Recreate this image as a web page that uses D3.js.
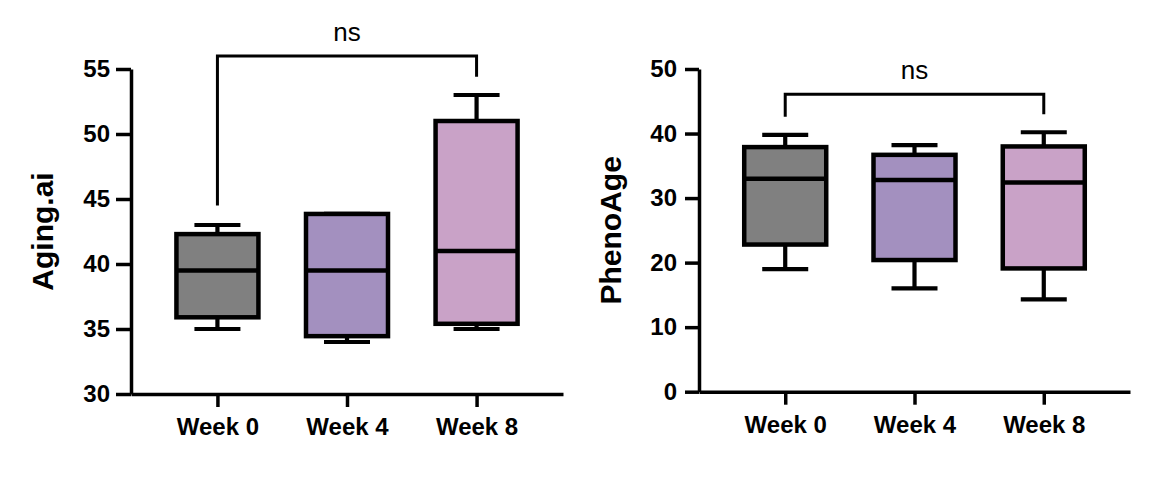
<!DOCTYPE html>
<html>
<head>
<meta charset="utf-8">
<script src="https://cdn.jsdelivr.net/npm/d3@7"></script>
<style>
  body { margin: 0; background: #fff; }
  svg { display: block; font-family: "Liberation Sans", Arial, Helvetica, sans-serif; }
</style>
</head>
<body>
<div id="chart"></div>
<script>
// groups on the x axis
const weeks = ["Week 0", "Week 4", "Week 8"];
const boxColors = ["#808080", "#a390bf", "#c9a2c7"];

// Aging.ai box values per week
const agingMin = [35.0, 34.0, 35.0];
const agingQ1 = [35.9, 34.45, 35.4];
const agingMedian = [39.5, 39.5, 41.0];
const agingQ3 = [42.3, 43.85, 51.0];
const agingMax = [43.0, 43.85, 53.0];
const agingTicks = [30, 35, 40, 45, 50, 55];

// PhenoAge box values per week
const phenoMin = [19.0, 16.0, 14.3];
const phenoQ1 = [22.8, 20.4, 19.1];
const phenoMedian = [33.0, 32.8, 32.4];
const phenoQ3 = [37.9, 36.7, 38.0];
const phenoMax = [39.8, 38.2, 40.2];
const phenoTicks = [0, 10, 20, 30, 40, 50];

// significance brackets: [from, to, top, left leg end, right leg end]
const agingBracket = ["Week 0", "Week 8", 56, 44.5, 54.4];
const phenoBracket = ["Week 0", "Week 8", 46.1, 42.6, 43.0];

const svg = d3.select("#chart")
  .append("svg")
  .attr("width", 1158)
  .attr("height", 478);

function drawBoxChart(opts) {
  let g = svg.append("g");

  let x = d3.scalePoint()
    .domain(weeks)
    .range([opts.left, opts.right])
    .padding(0.667);

  let y = d3.scaleLinear()
    .domain([opts.ticks[0], opts.ticks[opts.ticks.length - 1]])
    .range([opts.bottom, opts.top]);

  let rows = weeks.map(function (w, i) {
    return {week: w, min: opts.min[i], q1: opts.q1[i], median: opts.median[i],
            q3: opts.q3[i], max: opts.max[i], color: boxColors[i]};
  });

  let boxW = 82, capW = 46;

  // whiskers
  g.selectAll(".whisker")
    .data(rows)
    .enter()
    .append("path")
      .attr("d", function (d) {
        let cx = x(d.week);
        return "M" + cx + "," + y(d.max) + "V" + y(d.q3)
             + "M" + cx + "," + y(d.q1) + "V" + y(d.min)
             + "M" + (cx - capW / 2) + "," + y(d.max) + "H" + (cx + capW / 2)
             + "M" + (cx - capW / 2) + "," + y(d.min) + "H" + (cx + capW / 2);
      })
      .style("fill", "none")
      .style("stroke", "#000")
      .style("stroke-width", 4.2);

  // boxes
  g.selectAll(".box")
    .data(rows)
    .enter()
    .append("rect")
      .attr("x", function (d) { return x(d.week) - boxW / 2; })
      .attr("y", function (d) { return y(d.q3); })
      .attr("width", boxW)
      .attr("height", function (d) { return y(d.q1) - y(d.q3); })
      .style("fill", function (d) { return d.color; })
      .style("stroke", "#000")
      .style("stroke-width", 4.5);

  // medians
  g.selectAll(".median")
    .data(rows)
    .enter()
    .append("line")
      .attr("x1", function (d) { return x(d.week) - boxW / 2; })
      .attr("x2", function (d) { return x(d.week) + boxW / 2; })
      .attr("y1", function (d) { return y(d.median); })
      .attr("y2", function (d) { return y(d.median); })
      .style("stroke", "#000")
      .style("stroke-width", 4.5);

  // y axis
  let yAxis = g.append("g")
    .attr("transform", "translate(" + opts.left + ",0)")
    .call(d3.axisLeft(y).tickValues(opts.ticks).tickSize(opts.tickY).tickPadding(opts.padY).tickSizeOuter(0));

  // x axis
  let xAxis = g.append("g")
    .attr("transform", "translate(0," + opts.bottom + ")")
    .call(d3.axisBottom(x).tickSize(13).tickPadding(11).tickSizeOuter(0));

  [yAxis, xAxis].forEach(function (a) {
    a.selectAll("path, line").style("stroke", "#000").style("stroke-width", 3.5);
    a.selectAll("text")
      .style("font-size", "24px")
      .style("font-weight", "bold")
      .style("fill", "#000");
  });

  // y title
  g.append("text")
    .attr("transform", "translate(" + opts.titleX + "," + ((opts.top + opts.bottom) / 2) + ") rotate(-90)")
    .attr("text-anchor", "middle")
    .style("font-size", "30px")
    .style("font-weight", "bold")
    .text(opts.title);

  // bracket with "ns"
  let b = opts.bracket;
  let x0 = x(b[0]), x1 = x(b[1]);
  g.append("path")
    .attr("d", "M" + x0 + "," + y(b[3]) + "V" + y(b[2]) + "H" + x1 + "V" + y(b[4]))
    .style("fill", "none")
    .style("stroke", "#000")
    .style("stroke-width", 3);

  g.append("text")
    .attr("x", (x0 + x1) / 2)
    .attr("y", y(b[2]) - 15)
    .attr("text-anchor", "middle")
    .style("font-size", "26px")
    .text("ns");
}

drawBoxChart({
  left: 131, right: 563, top: 69, bottom: 394,
  ticks: agingTicks, tickY: 15, padY: 6,
  min: agingMin, q1: agingQ1, median: agingMedian, q3: agingQ3, max: agingMax,
  title: "Aging.ai", titleX: 53, bracket: agingBracket
});

drawBoxChart({
  left: 699, right: 1130, top: 69, bottom: 391.7,
  ticks: phenoTicks, tickY: 14, padY: 8,
  min: phenoMin, q1: phenoQ1, median: phenoMedian, q3: phenoQ3, max: phenoMax,
  title: "PhenoAge", titleX: 621, bracket: phenoBracket
});
</script>
</body>
</html>
